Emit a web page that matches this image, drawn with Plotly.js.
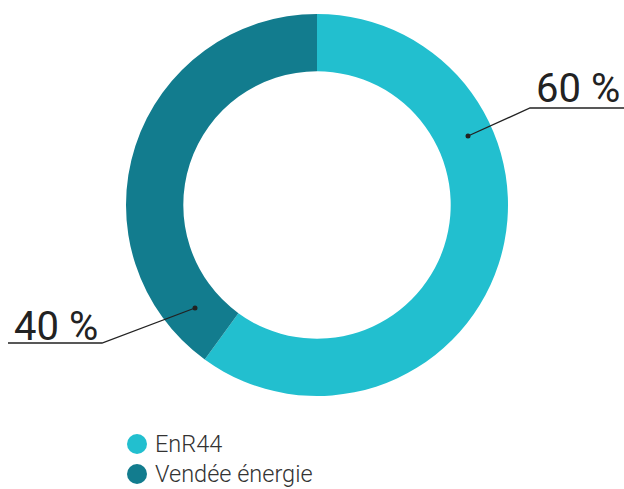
<!DOCTYPE html>
<html><head><meta charset="utf-8">
<script src="https://cdn.plot.ly/plotly-3.0.1.min.js"></script>
<style>html,body{margin:0;padding:0;background:#fff}#c{width:624px;height:489px}</style>
</head><body><div id="c"></div>
<script>
const categories = ["EnR44", "Vendée énergie"];
const values = [60, 40];
const labelsText = ["60 %", "40 %"];
const colors = ["#22BFCF", "#127C8E"];

const W = 624, H = 489;
const px = x => x / W, py = y => 1 - y / H;

const traces = [{
  type: "pie", labels: categories, values: values, hole: 0.70,
  sort: false, direction: "clockwise", rotation: 0,
  marker: {colors: colors, line: {width: 0}},
  textinfo: "none", hoverinfo: "none", showlegend: false,
  domain: {x: [px(126), px(508)], y: [py(396), py(14)]}
}];

const lineStyle = {color: "#222", width: 1.3};
const shapes = [
  {type: "path", xref: "paper", yref: "paper", line: lineStyle,
   path: `M ${px(468)} ${py(136)} L ${px(530)} ${py(108)} L ${px(624)} ${py(108)}`},
  {type: "circle", xref: "paper", yref: "paper", fillcolor: "#222", line: {width: 0},
   x0: px(465.5), x1: px(470.5), y0: py(138.5), y1: py(133.5)},
  {type: "path", xref: "paper", yref: "paper", line: lineStyle,
   path: `M ${px(195)} ${py(308)} L ${px(102)} ${py(343)} L ${px(8)} ${py(343)}`},
  {type: "circle", xref: "paper", yref: "paper", fillcolor: "#222", line: {width: 0},
   x0: px(192.5), x1: px(197.5), y0: py(310.5), y1: py(305.5)}
];
const annotations = [
  {xref: "paper", yref: "paper", x: px(534), y: py(114), xanchor: "left", yanchor: "bottom",
   text: labelsText[0], showarrow: false, font: {family: "Roboto", size: 40, color: "#222", weight: 400}},
  {xref: "paper", yref: "paper", x: px(12), y: py(352), xanchor: "left", yanchor: "bottom",
   text: labelsText[1], showarrow: false, font: {family: "Roboto", size: 40, color: "#222", weight: 400}}
];
categories.forEach((c, i) => {
  const cy = 444 + i * 30;
  shapes.push({type: "circle", xref: "paper", yref: "paper", fillcolor: colors[i], line: {width: 0},
    x0: px(127), x1: px(147), y0: py(cy + 10), y1: py(cy - 10)});
  annotations.push({xref: "paper", yref: "paper", x: px(153), y: py(cy), xanchor: "left", yanchor: "middle",
    text: c, showarrow: false, font: {family: "Roboto", size: 23.5, color: "#333", weight: 300}});
});

const layout = {
  width: W, height: H, margin: {l: 0, r: 0, t: 0, b: 0},
  paper_bgcolor: "#fff", plot_bgcolor: "#fff",
  showlegend: false, shapes: shapes, annotations: annotations
};
Plotly.newPlot("c", traces, layout, {displayModeBar: false, staticPlot: true});
</script></body></html>
